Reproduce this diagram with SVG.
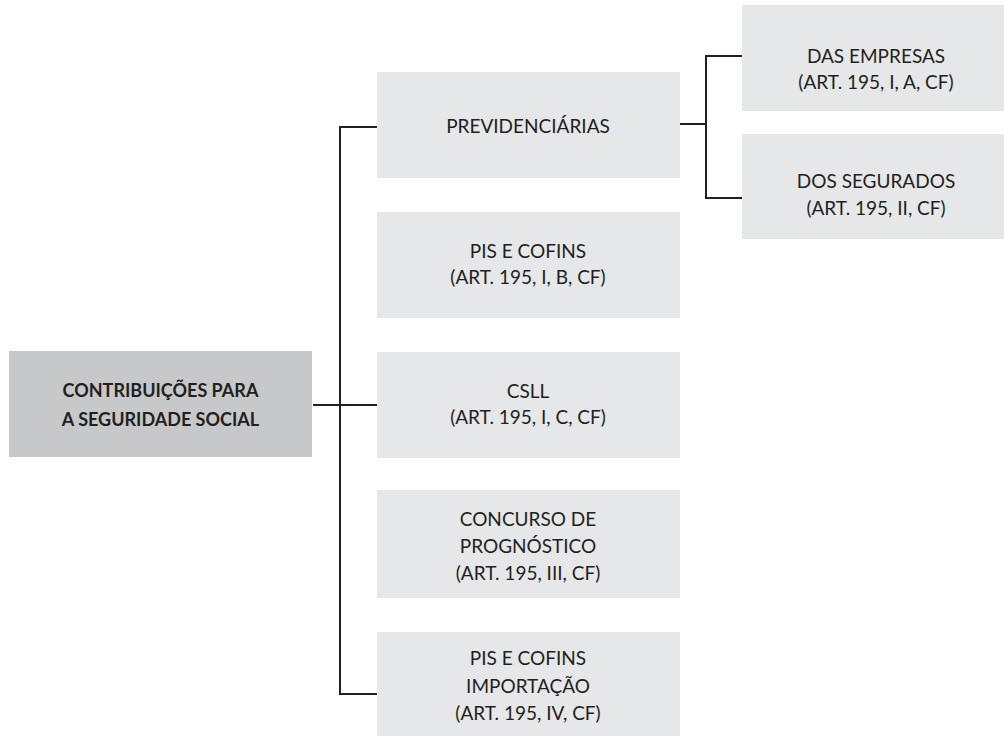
<svg xmlns="http://www.w3.org/2000/svg" width="1004" height="736" viewBox="0 0 1004 736">
<style>
.box{fill:#e6e7e8}
.root{fill:#c7c8ca}
text{font-family:Lato,"Liberation Sans",sans-serif;font-size:19px;fill:#231f20;text-anchor:middle}
.b{font-weight:bold;font-size:18px}
.c{fill:none;stroke:#231f20;stroke-width:2}
</style>
<rect width="1004" height="736" fill="#fff"/>
<g id="connectors">
<path class="c" d="M313,405 H377"/>
<path class="c" d="M377,127 H340 V694 H377"/>
<path class="c" d="M680,124 H706"/>
<path class="c" d="M742,56 H706 V198 H742"/>
</g>
<g id="n-root">
<rect class="root" x="9" y="351" width="303" height="106"/>
<text class="b" x="160.5" y="397">CONTRIBUIÇÕES PARA</text>
<text class="b" x="160.5" y="426">A SEGURIDADE SOCIAL</text>
</g>
<g id="n-prev">
<rect class="box" x="377" y="72" width="303" height="106"/>
<text x="528" y="133">PREVIDENCIÁRIAS</text>
</g>
<g id="n-pis">
<rect class="box" x="377" y="212" width="303" height="106"/>
<text x="528" y="258">PIS E COFINS</text>
<text x="528" y="284">(ART. 195, I, B, CF)</text>
</g>
<g id="n-csll">
<rect class="box" x="377" y="352" width="303" height="106"/>
<text x="528" y="398">CSLL</text>
<text x="528" y="424">(ART. 195, I, C, CF)</text>
</g>
<g id="n-concurso">
<rect class="box" x="377" y="490" width="303" height="108"/>
<text x="528" y="526">CONCURSO DE</text>
<text x="528" y="553">PROGNÓSTICO</text>
<text x="528" y="580">(ART. 195, III, CF)</text>
</g>
<g id="n-import">
<rect class="box" x="377" y="632" width="303" height="110"/>
<text x="528" y="665">PIS E COFINS</text>
<text x="528" y="693">IMPORTAÇÃO</text>
<text x="528" y="720">(ART. 195, IV, CF)</text>
</g>
<g id="n-empresas">
<rect class="box" x="742" y="5" width="268" height="106"/>
<text x="876" y="63">DAS EMPRESAS</text>
<text x="876" y="89">(ART. 195, I, A, CF)</text>
</g>
<g id="n-segurados">
<rect class="box" x="742" y="134" width="268" height="105"/>
<text x="876" y="188">DOS SEGURADOS</text>
<text x="876" y="215">(ART. 195, II, CF)</text>
</g>
</svg>
